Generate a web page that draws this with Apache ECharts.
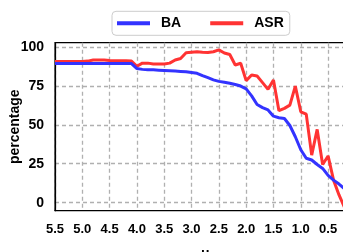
<!DOCTYPE html>
<html>
<head>
<meta charset="utf-8">
<script src="https://cdn.jsdelivr.net/npm/echarts@6/dist/echarts.min.js"></script>
<style>
  html, body { margin: 0; padding: 0; background: #fff; }
</style>
</head>
<body>
<!-- chart box must have a size or nothing shows -->
<div id="chartLineBox" style="width: 343px;height: 252px;"></div>
<script>
// mu values, from 5.5 down to 0.2
const muValues = [5.5, 5.4, 5.3, 5.2, 5.1, 5.0, 4.9, 4.8, 4.7, 4.6, 4.5, 4.4, 4.3, 4.2, 4.1, 4.0,
  3.9, 3.8, 3.7, 3.6, 3.5, 3.4, 3.3, 3.2, 3.1, 3.0, 2.9, 2.8, 2.7, 2.6, 2.5, 2.4, 2.3, 2.2, 2.1, 2.0,
  1.9, 1.8, 1.7, 1.6, 1.5, 1.4, 1.3, 1.2, 1.1, 1.0, 0.9, 0.8, 0.7, 0.6, 0.5, 0.4, 0.3, 0.2];

const baData = [89.2, 89.2, 89.2, 89.2, 89.2, 89.2, 89.2, 89.2, 89.2, 89.2, 89.2, 89.2, 89.2, 89.2, 89.2, 86,
  85.5, 85.3, 85.2, 85, 84.8, 84.6, 84.4, 84.2, 84, 83.5, 83, 81.5, 80.2, 78.8, 77.8, 77.3, 76.6, 75.8, 74.8, 73,
  68.5, 63, 61, 59.5, 55.5, 54.5, 54, 49.5, 42.3, 34, 28.5, 27.4, 24.5, 22, 17.5, 14.5, 12, 9];

const asrData = [90.5, 90.5, 90.5, 90.5, 90.5, 90.5, 90.8, 91.5, 91.5, 91.5, 91.2, 91, 91, 91, 90.8, 87.5,
  89.5, 89.5, 89, 89, 89, 89.5, 91.5, 92.5, 96.2, 96.5, 96.8, 96.5, 96.3, 96.8, 98, 96, 95, 88.3, 89.4, 78.3,
  81.9, 81.2, 77, 72.7, 78.7, 59, 60.5, 62.6, 74.8, 58.3, 56.8, 30.5, 47, 24.5, 30, 14.5, 5, -3];

const yTicks = [0, 25, 50, 75, 100];

const chartLine = echarts.init(document.getElementById('chartLineBox'));

const font = 'Liberation Sans, Arial, sans-serif';
const dashed = { color: '#b0b0b0', width: 1.3, type: [4, 3] };

const option = {
  animation: false,
  grid: {
    left: 55, top: 42.7, width: 300.4, height: 168,
    outerBoundsMode: 'none',
    containLabel: false,
    show: true, borderColor: '#000', borderWidth: 1.2
  },
  legend: {
    data: ['BA', 'ASR'],
    left: 112, top: 11.3,
    padding: [5, 6, 5, 5],
    itemGap: 29,
    itemWidth: 33, itemHeight: 4,
    icon: 'rect',
    backgroundColor: '#fff',
    borderColor: '#cccccc', borderWidth: 1, borderRadius: 4,
    textStyle: { fontFamily: font, fontWeight: 'bold', fontSize: 14, color: '#000', padding: [0, 0, 0, 6] }
  },
  color: ['#3333ff', '#ff3333'],
  xAxis: {
    type: 'value',
    inverse: true,
    min: 0, max: 5.5, interval: 0.5,
    name: 'μ',
    nameLocation: 'middle',
    nameGap: 36,
    nameMoveOverlap: false,
    nameTextStyle: { fontFamily: font, fontWeight: 'bold', fontSize: 14, color: '#000', verticalAlign: 'top' },
    axisLine: { onZero: false, lineStyle: { color: '#000', width: 1.2 } },
    axisTick: { show: false },
    axisLabel: {
      fontFamily: font, fontWeight: 'bold', fontSize: 13, color: '#000', margin: 12,
      formatter: v => v.toFixed(1),
      showMaxLabel: true
    },
    splitLine: { show: true, lineStyle: dashed }
  },
  yAxis: {
    type: 'value',
    min: -5.1, max: 102.6,
    name: 'percentage',
    nameLocation: 'middle',
    nameGap: 33,
    nameMoveOverlap: false,
    nameTextStyle: { fontFamily: font, fontWeight: 'bold', fontSize: 14, color: '#000' },
    axisLine: { show: true, onZero: false, lineStyle: { color: '#000', width: 1.2 } },
    axisTick: { show: false, customValues: yTicks },
    axisLabel: {
      fontFamily: font, fontWeight: 'bold', fontSize: 14, color: '#000', margin: 11,
      customValues: yTicks
    },
    splitLine: { show: true, lineStyle: dashed }
  },
  series: [
    {
      name: 'BA',
      type: 'line',
      data: muValues.map((m, i) => [m, baData[i]]),
      showSymbol: false,
      lineStyle: { width: 3, color: '#3333ff' },
      z: 3
    },
    {
      name: 'ASR',
      type: 'line',
      data: muValues.map((m, i) => [m, asrData[i]]),
      showSymbol: false,
      lineStyle: { width: 3, color: '#ff3333' },
      z: 2
    }
  ]
};

chartLine.setOption(option);
</script>
</body>
</html>
